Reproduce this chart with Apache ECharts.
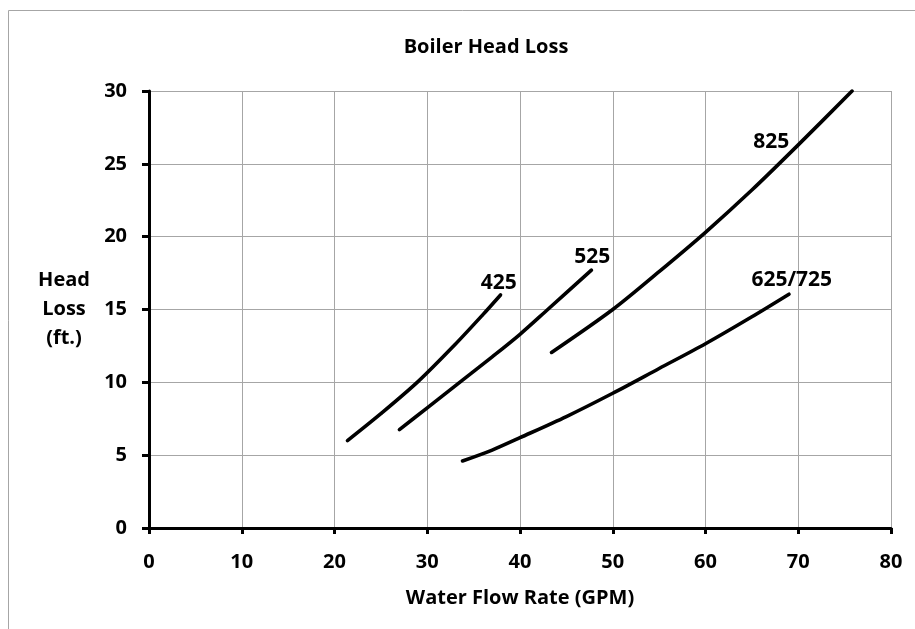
<!DOCTYPE html>
<html>
<head>
<meta charset="utf-8">
<title>Boiler Head Loss</title>
<script src="https://cdn.jsdelivr.net/npm/echarts@6/dist/echarts.min.js"></script>
<style>
  html, body { margin: 0; padding: 0; background: #fff; }
  #chart { width: 915px; height: 629px; }
</style>
</head>
<body>
<div id="chart"></div>
<script>
// Boiler models and their head-loss curves: [flow GPM, head loss ft]
const modelNames = ['425', '525', '825', '625/725'];

const curve425 = [[21.4, 6.0], [25.0, 7.85], [29.0, 10.05], [33.0, 12.6], [36.0, 14.65], [37.9, 16.0]];
const curve525 = [[27.0, 6.75], [30.0, 8.25], [33.7, 10.1], [37.0, 11.75], [40.0, 13.3], [42.9, 14.95], [47.7, 17.7]];
const curve825 = [[43.4, 12.05], [50.0, 15.0], [55.0, 17.6], [60.0, 20.3], [65.0, 23.2], [70.0, 26.3], [75.8, 30.0]];
const curve625 = [[33.8, 4.6], [37.0, 5.35], [40.0, 6.2], [45.0, 7.65], [50.0, 9.25], [55.0, 10.95], [60.0, 12.65], [65.0, 14.5], [69.0, 16.05]];

// Anchor (data coords) for each model's curve label
const labelAnchors = [[37.7, 16.8], [47.8, 18.6], [67.1, 26.5], [69.3, 17.0]];

const xTicks = { min: 0, max: 80, step: 10 };
const yTicks = { min: 0, max: 30, step: 5 };

const curves = [curve425, curve525, curve825, curve625];
const FONT = '"Open Sans", "Noto Sans", sans-serif';
const TXT = { fontFamily: FONT, fontWeight: 'bold', color: '#000' };

const chart = echarts.init(document.getElementById('chart'), null, { renderer: 'canvas' });

const series = curves.map((pts, i) => ({
  name: modelNames[i],
  type: 'line',
  data: pts,
  smooth: 0.3,
  showSymbol: false,
  silent: true,
  lineStyle: { color: '#000', width: 3.6, cap: 'round', join: 'round' },
  markPoint: {
    symbol: 'circle',
    symbolSize: 0,
    silent: true,
    data: [{ coord: labelAnchors[i], value: modelNames[i] }],
    label: Object.assign({
      show: true,
      position: 'inside',
      formatter: modelNames[i],
      fontSize: 21
    }, TXT)
  }
}));

chart.setOption({
  backgroundColor: '#fff',
  animation: false,
  title: {
    text: 'Boiler Head Loss',
    left: 481,
    top: 32,
    textAlign: 'center',
    textStyle: Object.assign({ fontSize: 20 }, TXT)
  },
  graphic: [{
    type: 'rect',
    shape: { x: 8.5, y: 10.5, width: 1000, height: 1000 },
    style: { fill: 'none', stroke: '#a6a6a6', lineWidth: 1 },
    silent: true,
    z: -1
  }],
  grid: { left: 149, right: 24, top: 91, bottom: 101 },
  xAxis: {
    type: 'value',
    min: xTicks.min,
    max: xTicks.max,
    interval: xTicks.step,
    name: 'Water Flow Rate (GPM)',
    nameLocation: 'middle',
    nameGap: 70,
    nameTextStyle: Object.assign({ fontSize: 20, verticalAlign: 'middle' }, TXT),
    axisLine: { show: true, onZero: false, lineStyle: { color: '#000', width: 3 } },
    axisTick: { show: true, length: 6, lineStyle: { color: '#000', width: 3 } },
    axisLabel: Object.assign({ margin: 24, fontSize: 20 }, TXT),
    splitLine: { show: true, lineStyle: { color: '#a6a6a6', width: 1 } }
  },
  yAxis: {
    type: 'value',
    min: yTicks.min,
    max: yTicks.max,
    interval: yTicks.step,
    name: 'Head\nLoss\n(ft.)',
    nameLocation: 'middle',
    nameRotate: 0,
    nameGap: 85,
    nameTextStyle: Object.assign({ fontSize: 20, align: 'center', verticalAlign: 'middle', lineHeight: 29 }, TXT),
    axisLine: { show: true, onZero: false, lineStyle: { color: '#000', width: 3 } },
    axisTick: { show: true, length: 7, lineStyle: { color: '#000', width: 3 } },
    axisLabel: Object.assign({ margin: 22, fontSize: 20 }, TXT),
    splitLine: { show: true, lineStyle: { color: '#a6a6a6', width: 1 } }
  },
  series: series
});
</script>
</body>
</html>
